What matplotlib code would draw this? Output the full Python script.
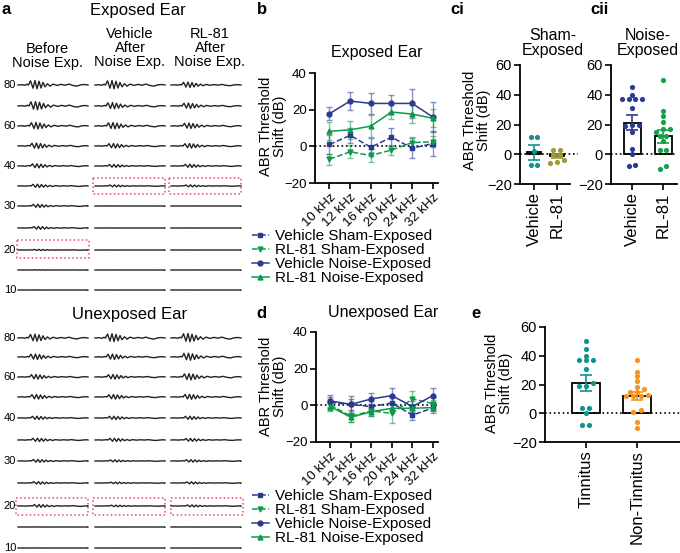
import numpy as np
import matplotlib
matplotlib.use('Agg')
import matplotlib.pyplot as plt
from matplotlib.lines import Line2D
from matplotlib.patches import Rectangle

plt.rcParams['font.family'] = ['Liberation Sans', 'DejaVu Sans']

W, H = 680, 553

# ---------------- data ----------------
freqs = ['10 kHz', '12 kHz', '16 kHz', '20 kHz', '24 kHz', '32 kHz']

# panel b, exposed ear (mean, sem)
b_veh_sham = [1, 6, -0.5, 5, -1, 1.5]
b_veh_sham_err = [5, 4, 5, 5, 5.5, 7]
b_rl_sham = [-7, -3, -5, -2, 2, 2.5]
b_rl_sham_err = [3, 3.5, 3.5, 2.5, 3, 3]
b_veh_noise = [17.8, 24.7, 23.4, 23.4, 23.4, 16]
b_veh_noise_err = [3.7, 5, 5.5, 4.5, 8, 8]
b_rl_noise = [8.2, 9, 11, 18.7, 17.6, 15.3]
b_rl_noise_err = [5, 5, 6, 4, 5, 5]

# panel d, unexposed ear
d_veh_sham = [1.6, 0.5, -0.7, 1.3, -5.3, -1.5]
d_veh_sham_err = [3, 3, 3, 3, 2.5, 2.5]
d_rl_sham = [0.2, -6, -3, -4.4, 3.5, 1]
d_rl_sham_err = [3, 3, 3, 5.5, 4.5, 2]
d_veh_noise = [2.4, 0.5, 3.5, 5.3, -0.7, 5.3]
d_veh_noise_err = [3.5, 4.5, 3, 4, 3, 4]
d_rl_noise = [-0.7, -6.5, -3.5, -1.6, -1.6, -1.2]
d_rl_noise_err = [2.5, 2.5, 2.5, 2.5, 2.5, 2]

# panel ci / cii
ci_veh = [11.5, 11.5, 2, -7.5, -7.5]
ci_rl = [3, 3, -0.5, -0.5, -4, -5, -6]
ci_means = [1.3, -1.3]
ci_sems = [5, 1.5]
cii_veh = [45, 40, 37, 37, 37, 37, 31, 20, 20, 19, 15, 3.5, 0, -7, -8]
cii_rl = [50, 29, 26, 22, 17, 17, 15, 12, 12, 9, 3, 3, -8, -10]
cii_means = [21.3, 12]
cii_sems = [5, 4.5]

# panel e
e_tin = [50, 45, 40, 37, 37, 37, 31, 21, 19, 19, 4, 4, 0, -8, -8]
e_non = [37, 29, 26, 22.5, 18, 17, 15, 15, 13, 12, 12, 12, 2, 1, -6, -10]
e_means = [21.3, 12]
e_sems = [5.5, 3]

# panel a, ABR waveform template (time in px, deflection in px)
abr_t = [0, 4, 7, 9, 10.5, 12.5, 15, 17, 19, 21, 23, 25, 27, 29.5, 32, 35, 39,
         43, 47, 51, 55, 59, 63, 67, 70]
abr_v = [0, 0.3, -0.3, 0.8, 0, 4.2, -3.2, 4.5, -3.8, 3.8, -3, 2.6, -1.8, 1.3,
         -1.2, 0.9, -0.4, 0.6, -0.2, 0.9, -0.5, -1.1, 0.2, 0.5, 0]
levels = [80, 70, 60, 50, 40, 35, 30, 25, 20, 15, 10]
latency = [0, 0.5, 1, 1.5, 2, 2.5, 3, 3.5, 4, 4, 4]
amp_exposed = [
    [1.0, 1.0, 0.8, 0.65, 0.5, 0.4, 0.4, 0.35, 0.15, 0.05, 0.03],
    [1.0, 0.75, 0.75, 0.55, 0.35, 0.25, 0.03, 0.02, 0.02, 0.02, 0.02],
    [0.65, 0.65, 0.65, 0.55, 0.4, 0.25, 0.02, 0.02, 0.02, 0.02, 0.02],
]
amp_unexposed = [
    [0.85, 0.65, 0.55, 0.55, 0.4, 0.4, 0.35, 0.3, 0.35, 0.02, 0.02],
    [0.95, 0.65, 0.55, 0.55, 0.4, 0.4, 0.25, 0.2, 0.2, 0.02, 0.02],
    [1.0, 0.85, 0.75, 0.6, 0.4, 0.35, 0.3, 0.25, 0.25, 0.02, 0.02],
]

navy = '#2b3990'
green = '#0c9a4b'
teal = '#0f9490'
olive = '#9a9a3a'
orange = '#f7931e'
pink = '#e8477a'


def px_axes(l, t, r, b):
    return fig.add_axes([l / W, 1 - b / H, (r - l) / W, (b - t) / H])


def ftext(x, y, s, **kw):
    fig.text(x / W, 1 - y / H, s, **kw)


fig = plt.figure(figsize=(W / 100, H / 100), dpi=100)

# ---------------- panel a ----------------
axa = fig.add_axes([0, 0, 245 / W, 1])
axa.set_xlim(0, 245)
axa.set_ylim(H, 0)
axa.axis('off')

col_x = [18, 95, 171]
rows_exp = [85, 106, 126, 146, 166, 186, 206, 228, 250, 270, 290]
rows_unexp = [338, 357, 377, 397, 418, 440, 461, 483, 506, 527, 548]
t = np.array(abr_t)
v = np.array(abr_v)
for rows, amps in [(rows_exp, amp_exposed), (rows_unexp, amp_unexposed)]:
    for c, x0 in enumerate(col_x):
        for i, y0 in enumerate(rows):
            tt = np.clip(t + latency[i] * (t > 8), 0, 70)
            axa.plot(x0 + tt, y0 - amps[c][i] * v, color='#222222', lw=1.0)
    for i, lv in enumerate(levels):
        if lv in (80, 60, 40, 30, 20, 10):
            axa.text(16, rows[i], str(lv), fontsize=8, ha='right', va='center')

boxes = [(17, 240, 72, 18), (93, 178, 72, 16), (169, 178, 72, 16),
         (16, 498, 72, 17), (93, 498, 72, 17), (171, 498, 72, 17)]
for bx in boxes:
    axa.add_patch(Rectangle((bx[0], bx[1]), bx[2], bx[3], fill=False,
                            ec=pink, ls=':', lw=1.1))

axa.text(2, 9, 'a', fontsize=12, fontweight='bold', va='center')
axa.text(138, 11, 'Exposed Ear', fontsize=12, ha='center', va='center')
axa.text(130, 315, 'Unexposed Ear', fontsize=12, ha='center', va='center')
axa.text(47, 56, 'Before\nNoise Exp.', fontsize=10.5, ha='center', va='center', linespacing=1.0)
axa.text(130, 48, 'Vehicle\nAfter\nNoise Exp.', fontsize=10.5, ha='center', va='center', linespacing=1.0)
axa.text(210, 48, 'RL-81\nAfter\nNoise Exp.', fontsize=10.5, ha='center', va='center', linespacing=1.0)


# ---------------- panels b, d ----------------
def style_ax(ax, size):
    for s in ['top', 'right']:
        ax.spines[s].set_visible(False)
    for s in ['left', 'bottom']:
        ax.spines[s].set_linewidth(1.3)
    ax.tick_params(width=1.2, length=4, labelsize=size, pad=2)


def line_panel(ax, series):
    x = np.arange(len(freqs))
    ax.axhline(0, color='black', ls=':', lw=1.2, zorder=1)
    for vals, errs, col, ls, mk in series:
        ax.errorbar(x, vals, yerr=errs, color=col, ecolor=col, elinewidth=1,
                    capsize=2, capthick=1, ls='none', alpha=0.55, zorder=2)
        ax.plot(x, vals, color=col, ls=ls, lw=1.1, marker=mk, ms=3.5, zorder=3)
    ax.set_xlim(-0.7, 5.25)
    ax.set_ylim(-20, 40)
    ax.set_yticks([-20, 0, 20, 40])
    ax.set_xticks(x)
    style_ax(ax, 9.5)
    ax.set_xticklabels(freqs, rotation=45, ha='right', rotation_mode='anchor', fontsize=9.5)


axb = px_axes(315, 73, 438, 183)
line_panel(axb, [
    (b_veh_sham, b_veh_sham_err, navy, '--', 's'),
    (b_rl_sham, b_rl_sham_err, green, '--', 'v'),
    (b_veh_noise, b_veh_noise_err, navy, '-', 'o'),
    (b_rl_noise, b_rl_noise_err, green, '-', '^'),
])
axd = px_axes(316, 332, 438, 442)
line_panel(axd, [
    (d_veh_sham, d_veh_sham_err, navy, '--', 's'),
    (d_rl_sham, d_rl_sham_err, green, '--', 'v'),
    (d_veh_noise, d_veh_noise_err, navy, '-', 'o'),
    (d_rl_noise, d_rl_noise_err, green, '-', '^'),
])

handles = [
    Line2D([], [], color=navy, ls='--', marker='s', ms=3.5, lw=1.1),
    Line2D([], [], color=green, ls='--', marker='v', ms=3.5, lw=1.1),
    Line2D([], [], color=navy, ls='-', marker='o', ms=3.5, lw=1.1),
    Line2D([], [], color=green, ls='-', marker='^', ms=3.5, lw=1.1),
]
labels = ['Vehicle Sham-Exposed', 'RL-81 Sham-Exposed',
          'Vehicle Noise-Exposed', 'RL-81 Noise-Exposed']
for top in (229, 489):
    fig.legend(handles, labels, loc='upper left', bbox_to_anchor=(252 / W, 1 - top / H),
               frameon=False, fontsize=11, labelspacing=0.0, handlelength=1.1,
               handletextpad=0.4, borderpad=0, borderaxespad=0)

ftext(273, 126, 'ABR Threshold\nShift (dB)', rotation=90, fontsize=10.5, ha='center', va='center', linespacing=1.0)
ftext(273, 386, 'ABR Threshold\nShift (dB)', rotation=90, fontsize=10.5, ha='center', va='center', linespacing=1.0)
ftext(377, 53, 'Exposed Ear', fontsize=11.5, ha='center', va='center')
ftext(383, 313, 'Unexposed Ear', fontsize=11.5, ha='center', va='center')
ftext(257, 9, 'b', fontsize=12, fontweight='bold', va='center')
ftext(256, 313, 'd', fontsize=12, fontweight='bold', va='center')


# ---------------- bar + scatter panels ----------------
def swarm(vals, width, tol=2.5):
    vals = np.asarray(vals, float)
    order = np.argsort(vals)
    offs = np.zeros(len(vals))
    groups = [[order[0]]]
    for k in order[1:]:
        if vals[k] - vals[groups[-1][0]] <= tol:
            groups[-1].append(k)
        else:
            groups.append([k])
    for g in groups:
        n = len(g)
        for j, k in enumerate(g):
            offs[k] = (j - (n - 1) / 2) * width
    return offs


def bar_panel(ax, groups, means, sems, cols, cats, bw, sw, xlim, xmax_line):
    x = np.arange(len(cats))
    ax.bar(x, means, width=bw, color='white', edgecolor='black', lw=1.3, zorder=2)
    ax.plot([xlim[0], xmax_line], [0, 0], color='black', ls=':', lw=1.2,
            zorder=3, clip_on=False)
    for i, (vals, col) in enumerate(zip(groups, cols)):
        ax.scatter(x[i] + swarm(vals, sw), vals, s=14, color=col, zorder=4, lw=0)
        ax.errorbar(x[i], means[i], yerr=sems[i], color=col, capsize=4, capthick=1.2,
                    elinewidth=1.2, zorder=5)
    ax.set_xlim(*xlim)
    ax.set_ylim(-20, 60)
    ax.set_yticks([-20, 0, 20, 40, 60])
    ax.set_xticks(x)
    style_ax(ax, 10.5)
    ax.set_xticklabels(cats, rotation=90, fontsize=12)


axci = px_axes(520, 65, 570, 184)
bar_panel(axci, [ci_veh, ci_rl], ci_means, ci_sems, [teal, olive],
          ['Vehicle', 'RL-81'], 0.6, 0.3, (-0.61, 1.57), 1.9)
axcii = px_axes(611, 65, 677, 184)
bar_panel(axcii, [cii_veh, cii_rl], cii_means, cii_sems, [navy, '#12a34a'],
          ['Vehicle', 'RL-81'], 0.55, 0.22, (-0.68, 1.45), 1.45)
axe = px_axes(545, 327, 680, 442)
bar_panel(axe, [e_tin, e_non], e_means, e_sems, [teal, orange],
          ['Tinnitus', 'Non-Tinnitus'], 0.55, 0.14, (-0.8, 1.84), 1.84)

ftext(477, 120, 'ABR Threshold\nShift (dB)', rotation=90, fontsize=10.5, ha='center', va='center', linespacing=1.0)
ftext(499, 383, 'ABR Threshold\nShift (dB)', rotation=90, fontsize=10.5, ha='center', va='center', linespacing=1.0)
ftext(553, 43, 'Sham-\nExposed', fontsize=11.5, ha='center', va='center', linespacing=1.0)
ftext(648, 43, 'Noise-\nExposed', fontsize=11.5, ha='center', va='center', linespacing=1.0)
ftext(450, 10, 'ci', fontsize=12, fontweight='bold', va='center')
ftext(590, 10, 'cii', fontsize=12, fontweight='bold', va='center')
ftext(471, 313, 'e', fontsize=12, fontweight='bold', va='center')

fig.savefig('out.png', dpi=100)
